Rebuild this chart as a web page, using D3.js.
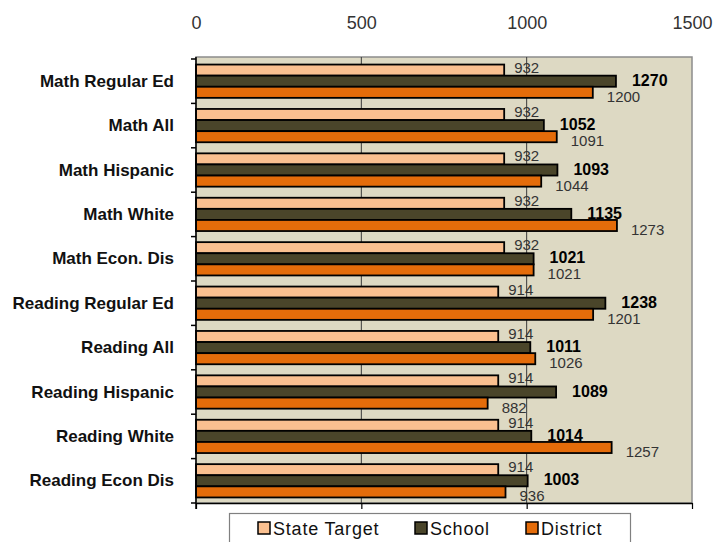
<!DOCTYPE html>
<html>
<head>
<meta charset="utf-8">
<script src="https://cdn.jsdelivr.net/npm/d3@7"></script>
<style>
  body { margin: 0; background: #fff; }
  svg { display: block; font-family: "Liberation Sans", Arial, sans-serif; }
</style>
</head>
<body>
<script>
const width = 715;
const height = 542;

const categories = ['Math Regular Ed', 'Math All', 'Math Hispanic', 'Math White', 'Math Econ. Dis',
  'Reading Regular Ed', 'Reading All', 'Reading Hispanic', 'Reading White', 'Reading Econ Dis'];
const stateTarget = [932, 932, 932, 932, 932, 914, 914, 914, 914, 914];
const school = [1270, 1052, 1093, 1135, 1021, 1238, 1011, 1089, 1014, 1003];
const district = [1200, 1091, 1044, 1273, 1021, 1201, 1026, 882, 1257, 936];
const seriesNames = ['State Target', 'School', 'District'];
const xTicks = [0, 500, 1000, 1500];

const colors = ['#FAC090', '#4A452A', '#E46C0A'];
const plot = {left: 196, right: 692, top: 57, bottom: 503};

// rows for each series
const series = [stateTarget, school, district].map((vals, s) =>
  vals.map((v, i) => ({cat: categories[i], value: v, s: s})));

const svg = d3.select('body')
  .append('svg')
  .attr('width', width)
  .attr('height', height);

const x = d3.scaleLinear()
  .domain([0, 1500])
  .range([plot.left, plot.right]);

const y = d3.scaleBand()
  .domain(categories)
  .range([59, plot.bottom])
  .paddingInner(0.25)
  .paddingOuter(0.125);

const ySub = d3.scaleBand()
  .domain([0, 1, 2])
  .range([0, y.bandwidth()]);

// plot background
svg.append('rect')
  .attr('x', plot.left)
  .attr('y', plot.top)
  .attr('width', plot.right - plot.left)
  .attr('height', plot.bottom - plot.top)
  .attr('fill', '#DDD9C3')
  .attr('stroke', '#8c8c8c')
  .attr('stroke-width', 1.5);

// vertical grid lines
svg.append('g')
  .selectAll('line')
  .data(xTicks.slice(1, -1))
  .enter()
  .append('line')
  .attr('x1', d => x(d))
  .attr('x2', d => x(d))
  .attr('y1', plot.top)
  .attr('y2', plot.bottom)
  .attr('stroke', '#3a3a3a')
  .attr('stroke-width', 1);

// bars
series.forEach((rows, s) => {
  svg.append('g')
    .selectAll('rect')
    .data(rows)
    .enter()
    .append('rect')
    .attr('x', x(0))
    .attr('y', d => y(d.cat) + ySub(s))
    .attr('width', d => x(d.value) - x(0))
    .attr('height', ySub.bandwidth())
    .attr('fill', colors[s])
    .attr('stroke', '#000')
    .attr('stroke-width', 1.8);
});

// value labels
const labelStyle = [
  {dx: 10, dy: -3, weight: 'normal', size: 15, fill: '#333'},
  {dx: 16, dy: -1, weight: 'bold', size: 16, fill: '#000'},
  {dx: 14, dy: 4, weight: 'normal', size: 15, fill: '#333'}
];
series.forEach((rows, s) => {
  const st = labelStyle[s];
  svg.append('g')
    .selectAll('text')
    .data(rows)
    .enter()
    .append('text')
    .text(d => d.value)
    .attr('x', d => x(d.value) + st.dx)
    .attr('y', d => y(d.cat) + ySub(s) + ySub.bandwidth() / 2 + st.dy)
    .attr('dominant-baseline', 'central')
    .attr('font-size', st.size)
    .attr('font-weight', st.weight)
    .attr('fill', st.fill);
});

// left axis (category labels, ticks between groups)
svg.append('line')
  .attr('x1', plot.left).attr('x2', plot.left)
  .attr('y1', plot.top).attr('y2', plot.bottom + 6)
  .attr('stroke', '#000').attr('stroke-width', 1.5);

const boundaries = d3.range(categories.length + 1).map(i => y.range()[0] + i * y.step());
svg.append('g')
  .selectAll('line')
  .data(boundaries)
  .enter()
  .append('line')
  .attr('x1', plot.left - 5)
  .attr('x2', plot.left)
  .attr('y1', d => d)
  .attr('y2', d => d)
  .attr('stroke', '#000')
  .attr('stroke-width', 1.5);

svg.append('g')
  .selectAll('text')
  .data(categories)
  .enter()
  .append('text')
  .text(d => d)
  .attr('x', 174)
  .attr('y', d => y(d) + y.bandwidth() / 2)
  .attr('text-anchor', 'end')
  .attr('dominant-baseline', 'central')
  .attr('font-size', 17)
  .attr('font-weight', 'bold')
  .attr('fill', '#111');

// bottom axis: ticks only
svg.append('g')
  .attr('transform', `translate(0,${plot.bottom})`)
  .call(d3.axisBottom(x).tickValues(xTicks).tickFormat('').tickSize(6).tickSizeOuter(0))
  .call(g => g.select('.domain').attr('stroke', '#000').attr('stroke-width', 1.5))
  .call(g => g.selectAll('.tick line').attr('stroke', '#000').attr('stroke-width', 1.2));

// top axis: labels only
svg.append('g')
  .attr('transform', 'translate(0,29)')
  .call(d3.axisTop(x).tickValues(xTicks).tickFormat(d3.format('d')).tickSize(0).tickPadding(0))
  .call(g => g.select('.domain').remove())
  .call(g => g.selectAll('text')
    .attr('font-size', 18)
    .attr('font-family', '"Liberation Sans", Arial, sans-serif')
    .attr('fill', '#333'));

// legend
const legend = svg.append('g');
legend.append('rect')
  .attr('x', 229.5)
  .attr('y', 513.5)
  .attr('width', 401)
  .attr('height', 40)
  .attr('fill', '#fff')
  .attr('stroke', '#808080')
  .attr('stroke-width', 1.2);

const legendX = [258, 415, 526];
seriesNames.forEach((name, s) => {
  legend.append('rect')
    .attr('x', legendX[s])
    .attr('y', 522)
    .attr('width', 12)
    .attr('height', 12)
    .attr('fill', colors[s])
    .attr('stroke', '#000')
    .attr('stroke-width', 1.5);
  legend.append('text')
    .text(name)
    .attr('x', legendX[s] + 15)
    .attr('y', 535)
    .attr('font-size', 18)
    .attr('letter-spacing', 0.8)
    .attr('fill', '#111');
});
</script>
</body>
</html>
